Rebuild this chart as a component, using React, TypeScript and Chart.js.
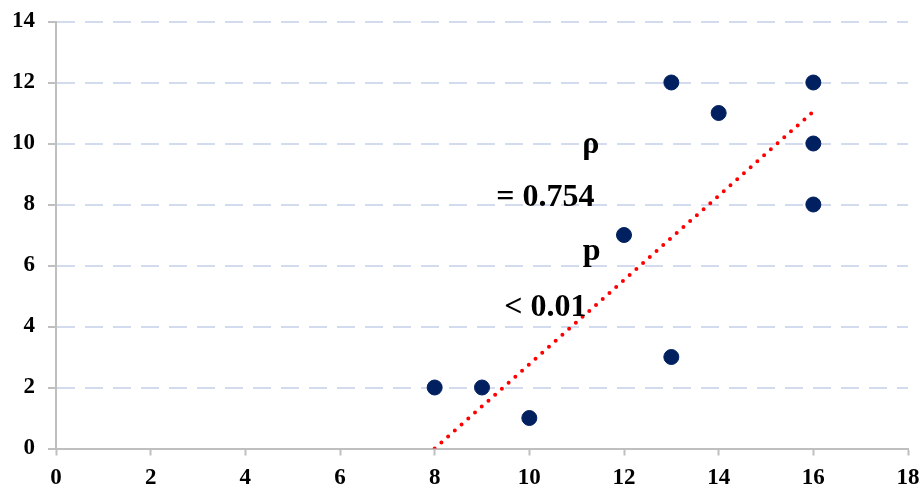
import React, { useEffect, useRef } from "react";
import { Chart, registerables } from "chart.js";

Chart.register(...registerables);

const pointsX = [8, 9, 10, 12, 13, 13, 14, 16, 16, 16];
const pointsY = [2, 2, 1, 7, 12, 3, 11, 12, 10, 8];
const trendX = [8, 16];
const trendY = [0, 11.05];
const annotationTexts = ["ρ", "= 0.754", "p", "< 0.01"];
const annotationX = [11.12, 9.3, 11.13, 9.47];
const annotationY = [9.7, 7.95, 6.18, 4.34];

const FONT = "'Liberation Serif', 'Times New Roman', serif";

const textPlugin = {
  id: "statText",
  afterDatasetsDraw(chart: any) {
    const { ctx, scales } = chart;
    ctx.save();
    ctx.font = `bold 32px ${FONT}`;
    ctx.fillStyle = "#000000";
    ctx.textAlign = "left";
    ctx.textBaseline = "alphabetic";
    annotationTexts.forEach((t, i) => {
      ctx.fillText(t, scales.x.getPixelForValue(annotationX[i]), scales.y.getPixelForValue(annotationY[i]));
    });
    ctx.restore();
  },
};

export default function App() {
  const ref = useRef<HTMLCanvasElement | null>(null);
  useEffect(() => {
    if (!ref.current) return;
    const chart = new Chart(ref.current, {
      type: "scatter",
      data: {
        datasets: [
          {
            type: "line",
            data: trendX.map((x, i) => ({ x, y: trendY[i] })),
            borderColor: "#ff0000",
            borderWidth: 4,
            borderDash: [0, 9],
            borderCapStyle: "round",
            pointRadius: 0,
            fill: false,
            order: 2,
          } as any,
          {
            data: pointsX.map((x, i) => ({ x, y: pointsY[i] })),
            backgroundColor: "#002060",
            borderColor: "#002060",
            pointRadius: 7.5,
            pointHoverRadius: 7.5,
            order: 1,
          },
        ],
      },
      options: {
        animation: false,
        responsive: true,
        maintainAspectRatio: false,
        layout: { padding: { top: 21.5, right: 15, left: 0, bottom: 0 } },
        plugins: { legend: { display: false }, tooltip: { enabled: false } },
        scales: {
          x: {
            type: "linear",
            min: 0,
            max: 18,
            ticks: { stepSize: 2, color: "#000", font: { family: FONT, size: 23, weight: "bold" }, padding: 9 },
            grid: { drawOnChartArea: false, tickLength: 7, tickColor: "#bfbfbf", tickWidth: 2 },
            border: { color: "#bfbfbf", width: 2 },
            afterFit: (s: any) => {
              s.height = 39.5;
              s.paddingLeft = 0;
              s.paddingRight = 0;
            },
          },
          y: {
            type: "linear",
            min: 0,
            max: 14,
            ticks: { stepSize: 2, color: "#000", font: { family: FONT, size: 23, weight: "bold" }, padding: 13 },
            grid: {
              color: "#d3dbef",
              lineWidth: 2,
              tickLength: 8,
              tickColor: "#bfbfbf",
              tickWidth: 2,
              tickBorderDash: [],
            } as any,
            border: { color: "#bfbfbf", width: 2, dash: [18, 10] } as any,
            afterFit: (s: any) => {
              s.width = 56;
              s.paddingTop = 0;
              s.paddingBottom = 0;
            },
          },
        },
      },
      plugins: [textPlugin],
    } as any);
    return () => chart.destroy();
  }, []);
  return (
    <div style={{ position: "fixed", left: 0, top: 0, width: 923, height: 488, background: "#fff" }}>
      <canvas ref={ref} />
    </div>
  );
}
